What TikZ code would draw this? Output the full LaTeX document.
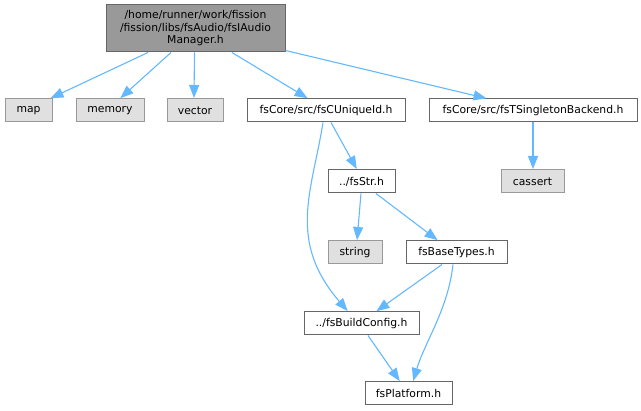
\documentclass[tikz,border=0pt]{standalone}
\usepackage{fontspec}
\setmainfont{DejaVu Sans}
\usetikzlibrary{arrows.meta}
\definecolor{edgeblue}{HTML}{63B8FF}
\definecolor{rootfill}{HTML}{999999}
\definecolor{darkborder}{HTML}{666666}
\definecolor{extfill}{HTML}{E0E0E0}
\definecolor{extborder}{HTML}{999999}
\tikzset{
  box/.style={draw=darkborder, fill=white, line width=1pt, rectangle, inner sep=0pt,
    minimum height=23pt, font=\fontsize{10.8}{12.5}\selectfont, align=center},
  extbox/.style={box, draw=extborder, fill=extfill},
  rootbox/.style={box, fill=rootfill, minimum height=47pt},
  edge/.style={draw=edgeblue, line width=1.1pt,
    -{Triangle[length=13pt,width=10pt,fill=edgeblue]}, shorten >=0.5pt}
}
\begin{document}
\begin{tikzpicture}[x=1pt,y=-1pt]
\useasboundingbox (0,0) rectangle (641,411);
\node[rootbox, minimum width=179pt] (root) at (195.5,28.5)
  {/home/runner/work/fission\\/fission/libs/fsAudio/fsIAudio\\Manager.h};
\node[extbox, minimum width=47pt] (map) at (28.5,110.5) {map};
\node[extbox, minimum width=68pt] (memory) at (110,110.5) {memory};
\node[extbox, minimum width=56pt] (vector) at (195,110.5) {vector};
\node[box, minimum width=158pt] (uid) at (326,110.5) {fsCore/src/fsCUniqueId.h};
\node[box, minimum width=208pt] (tsb) at (533,110.5) {fsCore/src/fsTSingletonBackend.h};
\node[extbox, minimum width=63pt] (cassert) at (532.5,181.5) {cassert};
\node[box, minimum width=67pt] (fsstr) at (361.5,181.5) {../fsStr.h};
\node[extbox, minimum width=54pt] (string) at (355,252.5) {string};
\node[box, minimum width=101pt] (basetypes) at (456.5,252.5) {fsBaseTypes.h};
\node[box, minimum width=115pt] (buildconfig) at (361.5,323.5) {../fsBuildConfig.h};
\node[box, minimum width=87pt] (platform) at (408.5,393.5) {fsPlatform.h};

\draw[edge] ([xshift=-47.5pt]root.south) -- ([xshift=21.5pt]map.north);
\draw[edge] ([xshift=-24.5pt]root.south) -- ([xshift=10pt]memory.north);
\draw[edge] ([xshift=-1pt]root.south) -- ([xshift=-1pt]vector.north);
\draw[edge] ([xshift=36.5pt]root.south) -- ([xshift=-18pt]uid.north);
\draw[edge] ([yshift=2pt]root.south east) -- ([xshift=-46pt]tsb.north);
\draw[edge] (tsb.south) -- ([xshift=0.5pt]cassert.north);
\draw[edge] ([xshift=5pt]uid.south) -- ([xshift=-4.5pt]fsstr.north);
\draw[edge] ([xshift=-3pt]uid.south) .. controls +(-11,69) and +(-61,-71) .. ([xshift=-13.5pt]buildconfig.north);
\draw[edge] ([xshift=-0.5pt]fsstr.south) -- ([xshift=2pt]string.north);
\draw[edge] ([xshift=14.5pt]fsstr.south) -- ([xshift=-18.5pt]basetypes.north);
\draw[edge] ([xshift=-14.5pt]basetypes.south) -- ([xshift=14.5pt]buildconfig.north);
\draw[edge] ([xshift=-3.5pt]basetypes.south) .. controls +(-5,45) and +(12,-40) .. ([xshift=4.5pt]platform.north);
\draw[edge] ([xshift=6.5pt]buildconfig.south) -- ([xshift=-8.5pt]platform.north);
\end{tikzpicture}
\end{document}
